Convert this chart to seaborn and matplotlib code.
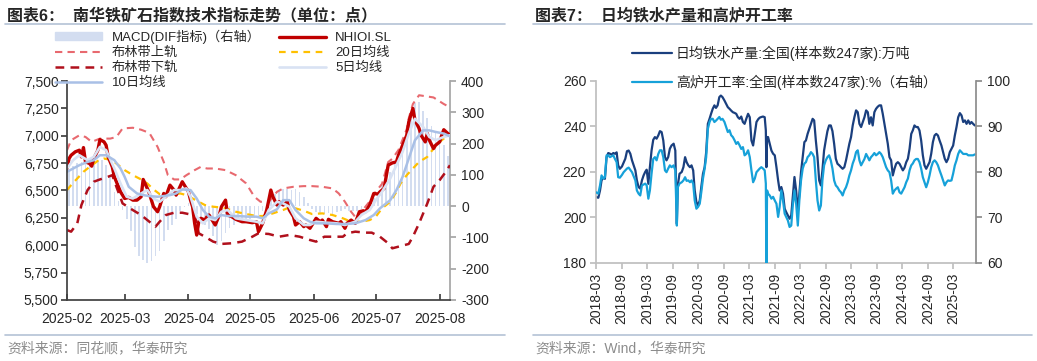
import matplotlib
matplotlib.use('Agg')
import matplotlib.pyplot as plt
import matplotlib.dates as mdates
from matplotlib.lines import Line2D
from matplotlib.patches import Patch
from matplotlib.ticker import FuncFormatter, MultipleLocator
import pandas as pd
import seaborn as sns

# ---------------- left chart: 南华铁矿石指数 (2025) ----------------
price_days = ['02-01', '02-02', '02-03', '02-05', '02-07', '02-08', '02-09', '02-10', '02-12', '02-13',
              '02-14', '02-16', '02-17', '02-19', '02-20', '02-21', '02-23', '02-24', '02-26', '02-27',
              '03-01', '03-03', '03-05', '03-07', '03-09', '03-10', '03-12', '03-13', '03-15', '03-17',
              '03-18', '03-20', '03-21', '03-23', '03-25', '03-26', '03-29', '03-30', '04-01', '04-02',
              '04-03', '04-04', '04-05', '04-06', '04-07', '04-09', '04-10', '04-11', '04-13', '04-14',
              '04-16', '04-17', '04-19', '04-20', '04-22', '04-24', '04-27', '04-29', '05-02', '05-04',
              '05-05', '05-07', '05-09', '05-10', '05-11', '05-12', '05-14', '05-15', '05-17', '05-19',
              '05-20', '05-22', '05-23', '05-25', '05-27', '05-28', '05-30', '05-31', '06-02', '06-04',
              '06-05', '06-07', '06-08', '06-10', '06-13', '06-14', '06-16', '06-17', '06-19', '06-21',
              '06-23', '06-25', '06-26', '06-28', '06-30', '07-02', '07-03', '07-05', '07-07', '07-09',
              '07-11', '07-12', '07-14', '07-16', '07-17', '07-19', '07-20', '07-22', '07-23', '07-25',
              '07-26', '07-27', '07-29', '07-30', '08-01', '08-02', '08-03', '08-05', '08-06']
price_vals = [6700, 6792, 6822, 6853, 6868, 6807, 6892, 6761, 6746, 6722,
              6792, 6868, 6965, 6944, 6913, 6807, 6716, 6625, 6534, 6488,
              6427, 6437, 6412, 6412, 6443, 6601, 6519, 6473, 6352, 6306,
              6352, 6473, 6443, 6549, 6504, 6458, 6580, 6549, 6488, 6412,
              6352, 6200, 6093, 6215, 6246, 6230, 6261, 6276, 6215, 6185,
              6276, 6352, 6412, 6276, 6261, 6237, 6215, 6215, 6206, 6215,
              6124, 6200, 6322, 6412, 6504, 6443, 6367, 6397, 6367, 6397,
              6322, 6261, 6185, 6215, 6170, 6185, 6155, 6185, 6246, 6215,
              6230, 6170, 6237, 6215, 6200, 6215, 6155, 6200, 6230, 6200,
              6306, 6315, 6306, 6367, 6473, 6467, 6488, 6519, 6732, 6752,
              6761, 6822, 6913, 7004, 7126, 7249, 7143, 7067, 7004, 6944,
              7020, 6959, 6883, 6913, 6944, 7004, 7055, 7020, 7004]

upper_days = ['02-01', '02-03', '02-07', '02-10', '02-13', '02-17', '02-22', '02-25', '02-28', '03-05',
              '03-09', '03-13', '03-17', '03-20', '03-22', '03-25', '03-28', '03-31', '04-04', '04-07',
              '04-10', '04-14', '04-19', '04-24', '04-29', '05-03', '05-06', '05-10', '05-14', '05-17',
              '05-22', '05-27', '05-31', '06-05', '06-10', '06-13', '06-16', '06-19', '06-22', '06-25',
              '06-28', '07-01', '07-04', '07-07', '07-09', '07-12', '07-16', '07-17', '07-19', '07-22',
              '07-29', '08-03', '08-06']
upper_vals = [6868, 6959, 7004, 6989, 6944, 6974, 6974, 6989, 7067, 7073,
              7055, 7026, 6898, 6761, 6640, 6601, 6601, 6640, 6686, 6716,
              6701, 6701, 6686, 6640, 6565, 6443, 6397, 6397, 6488, 6519,
              6534, 6540, 6540, 6534, 6519, 6473, 6397, 6306, 6235, 6330,
              6400, 6490, 6560, 6760, 6790, 6870, 7060, 7160, 7290, 7370,
              7350, 7290, 7260]

lower_days = ['02-01', '02-03', '02-06', '02-08', '02-11', '02-14', '02-17', '02-20', '02-23', '02-25',
              '02-28', '03-05', '03-09', '03-13', '03-16', '03-18', '03-21', '03-25', '03-29', '04-01',
              '04-04', '04-06', '04-09', '04-13', '04-17', '04-22', '04-27', '05-02', '05-05', '05-10',
              '05-15', '05-20', '05-25', '05-30', '06-02', '06-06', '06-10', '06-15', '06-17', '06-21',
              '06-26', '06-29', '07-03', '07-07', '07-09', '07-12', '07-17', '07-19', '07-22', '07-26',
              '07-29', '08-01', '08-04', '08-06']
lower_vals = [6139, 6124, 6200, 6367, 6504, 6580, 6601, 6619, 6640, 6534,
              6382, 6321, 6276, 6215, 6170, 6215, 6276, 6297, 6297, 6285,
              6276, 6109, 6078, 6033, 6012, 6018, 6033, 6078, 6109, 6103,
              6078, 6094, 6078, 6048, 6033, 6078, 6078, 6078, 6109, 6124,
              6115, 6115, 6078, 6018, 5972, 5987, 6012, 6078, 6200, 6382,
              6534, 6595, 6671, 6731]

ma20_days = ['02-01', '02-03', '02-06', '02-09', '02-12', '02-16', '02-19', '02-23', '02-26', '03-01',
             '03-05', '03-09', '03-12', '03-15', '03-18', '03-21', '03-25', '03-28', '03-31', '04-03',
             '04-06', '04-09', '04-13', '04-16', '04-19', '04-24', '04-29', '05-04', '05-07', '05-12',
             '05-17', '05-20', '05-23', '05-27', '05-31', '06-05', '06-10', '06-15', '06-19', '06-24',
             '06-28', '07-01', '07-04', '07-08', '07-11', '07-13', '07-16', '07-19', '07-22', '07-26',
             '07-29', '08-01', '08-04']
ma20_vals = [6504, 6549, 6610, 6671, 6716, 6771, 6792, 6777, 6731, 6686,
             6640, 6601, 6564, 6510, 6467, 6458, 6467, 6473, 6458, 6427,
             6397, 6367, 6352, 6346, 6337, 6306, 6285, 6267, 6267, 6291,
             6322, 6346, 6337, 6315, 6285, 6291, 6276, 6246, 6215, 6215,
             6230, 6261, 6337, 6397, 6488, 6564, 6640, 6701, 6761, 6807,
             6883, 6944, 6989]

ma10_days = ['02-01', '02-04', '02-07', '02-11', '02-14', '02-17', '02-20', '02-24', '02-27', '03-01',
             '03-03', '03-07', '03-10', '03-13', '03-17', '03-20', '03-23', '03-26', '03-29', '04-02',
             '04-05', '04-08', '04-11', '04-14', '04-17', '04-20', '04-25', '04-30', '05-04', '05-07',
             '05-10', '05-14', '05-17', '05-20', '05-23', '05-27', '05-30', '06-02', '06-07', '06-12',
             '06-16', '06-21', '06-26', '06-30', '07-03', '07-08', '07-11', '07-14', '07-17', '07-20',
             '07-24', '07-27', '07-30', '08-03', '08-06']
ma10_vals = [6671, 6701, 6731, 6761, 6777, 6822, 6822, 6777, 6701, 6625,
             6534, 6473, 6458, 6449, 6443, 6449, 6458, 6473, 6510, 6504,
             6427, 6322, 6261, 6246, 6276, 6267, 6267, 6261, 6261, 6246,
             6291, 6328, 6412, 6412, 6322, 6246, 6215, 6200, 6200, 6194,
             6194, 6200, 6230, 6276, 6337, 6412, 6504, 6625, 6792, 6959,
             7049, 7049, 7035, 7020, 6995]

ma5_days = ['02-01', '02-04', '02-07', '02-11', '02-14', '02-17', '02-20', '02-24', '02-27', '03-02',
            '03-05', '03-09', '03-12', '03-15', '03-18', '03-21', '03-25', '03-28', '03-31', '04-02',
            '04-05', '04-08', '04-11', '04-14', '04-17', '04-20', '04-24', '04-29', '05-04', '05-07',
            '05-10', '05-14', '05-17', '05-20', '05-23', '05-27', '05-30', '06-02', '06-07', '06-12',
            '06-16', '06-21', '06-24', '06-28', '07-01', '07-04', '07-08', '07-11', '07-14', '07-17',
            '07-20', '07-24', '07-27', '07-30', '08-03', '08-06']
ma5_vals = [6701, 6777, 6822, 6777, 6807, 6898, 6868, 6701, 6564, 6443,
            6427, 6473, 6504, 6427, 6397, 6443, 6504, 6504, 6519, 6443,
            6261, 6200, 6246, 6230, 6306, 6322, 6246, 6230, 6215, 6200,
            6322, 6397, 6382, 6352, 6246, 6185, 6185, 6215, 6206, 6200,
            6185, 6215, 6276, 6322, 6412, 6488, 6610, 6731, 6853, 7020,
            7155, 7080, 6989, 6959, 6989, 7004]

macd_days = ['02-02', '02-04', '02-06', '02-08', '02-10', '02-12', '02-14', '02-16', '02-18', '02-20',
             '02-22', '02-24', '02-26', '02-28', '03-02', '03-04', '03-06', '03-08', '03-10', '03-12',
             '03-14', '03-16', '03-18', '03-20', '03-22', '03-24', '03-26', '03-28', '03-30', '04-01',
             '04-03', '04-05', '04-07', '04-09', '04-11', '04-13', '04-15', '04-17', '04-19', '04-21',
             '04-23', '04-25', '04-27', '04-29', '05-01', '05-03', '05-05', '05-07', '05-09', '05-11',
             '05-13', '05-15', '05-17', '05-19', '05-21', '05-23', '05-25', '05-27', '05-29', '05-31',
             '06-02', '06-04', '06-06', '06-08', '06-10', '06-12', '06-14', '06-16', '06-18', '06-20',
             '06-22', '06-24', '06-26', '06-28', '06-30', '07-02', '07-04', '07-06', '07-08', '07-10',
             '07-12', '07-14', '07-16', '07-18', '07-20', '07-22', '07-24', '07-26', '07-28', '07-30',
             '08-01', '08-03', '08-05']
macd_vals = [115, 128, 137, 141, 147, 150, 147, 148, 148, 132,
             95, 45, 15, -12, -40, -80, -130, -158, -172, -181,
             -176, -160, -143, -112, -75, -60, -42, -15, -2, 10,
             5, -25, -45, -60, -72, -95, -125, -112, -85, -70,
             -60, -52, -48, -45, -42, -38, -30, -15, 0, 25,
             38, 50, 55, 55, 52, 55, 45, 28, 10, -8,
             -20, -25, -24, -22, -25, -20, -14, -10, -14, -15,
             -14, -8, 0, 10, 25, 45, 68, 92, 110, 135,
             155, 192, 230, 280, 330, 332, 305, 282, 255, 235,
             218, 195, 160]

# ---------------- right chart: 日均铁水产量 / 高炉开工率 ----------------
steel_dates = ['2018-03-02', '2018-03-18', '2018-03-30', '2018-04-10', '2018-04-22', '2018-05-04', '2018-05-16', '2018-05-28',
               '2018-06-09', '2018-06-21', '2018-07-03', '2018-07-15', '2018-07-27', '2018-08-07', '2018-08-19', '2018-09-03',
               '2018-09-15', '2018-09-27', '2018-10-09', '2018-10-21', '2018-11-02', '2018-11-14', '2018-11-26', '2018-12-08',
               '2018-12-19', '2018-12-31', '2019-01-12', '2019-01-24', '2019-02-05', '2019-02-17', '2019-02-27', '2019-03-11',
               '2019-03-22', '2019-04-03', '2019-04-15', '2019-04-27', '2019-05-09', '2019-05-21', '2019-06-02', '2019-06-14',
               '2019-06-26', '2019-07-08', '2019-07-19', '2019-07-31', '2019-08-12', '2019-08-24', '2019-09-08', '2019-09-20',
               '2019-10-01', '2019-10-08', '2019-10-20', '2019-11-05', '2019-11-17', '2019-11-29', '2019-12-10', '2019-12-22',
               '2020-01-03', '2020-01-14', '2020-01-26', '2020-02-06', '2020-02-18', '2020-03-01', '2020-03-13', '2020-03-24',
               '2020-04-05', '2020-04-17', '2020-04-28', '2020-05-10', '2020-05-22', '2020-06-02', '2020-06-14', '2020-06-26',
               '2020-07-07', '2020-07-19', '2020-07-31', '2020-08-11', '2020-08-23', '2020-09-06', '2020-09-18', '2020-09-30',
               '2020-10-12', '2020-10-24', '2020-11-05', '2020-11-17', '2020-11-29', '2020-12-11', '2020-12-23', '2021-01-04',
               '2021-01-16', '2021-01-28', '2021-02-09', '2021-02-22', '2021-03-06', '2021-03-18', '2021-03-30', '2021-04-11',
               '2021-04-23', '2021-05-05', '2021-05-16', '2021-05-28', '2021-06-09', '2021-06-21', '2021-06-29', '2021-07-03',
               '2021-07-08', '2021-07-15', '2021-07-27', '2021-08-08', '2021-08-20', '2021-09-01', '2021-09-13', '2021-09-25',
               '2021-10-06', '2021-10-18', '2021-10-30', '2021-11-11', '2021-11-22', '2021-12-04', '2021-12-16', '2021-12-28',
               '2022-01-08', '2022-01-20', '2022-02-01', '2022-02-13', '2022-02-24', '2022-03-08', '2022-03-20', '2022-04-01',
               '2022-04-12', '2022-04-24', '2022-05-06', '2022-05-18', '2022-05-30', '2022-06-10', '2022-06-22', '2022-07-04',
               '2022-07-16', '2022-07-28', '2022-08-08', '2022-08-20', '2022-09-01', '2022-09-13', '2022-09-25', '2022-10-07',
               '2022-10-19', '2022-10-31', '2022-11-12', '2022-11-24', '2022-12-07', '2022-12-19', '2022-12-31', '2023-01-12',
               '2023-01-24', '2023-02-05', '2023-02-17', '2023-03-01', '2023-03-13', '2023-03-25', '2023-04-06', '2023-04-18',
               '2023-04-30', '2023-05-12', '2023-05-24', '2023-06-05', '2023-06-17', '2023-06-29', '2023-07-10', '2023-07-22',
               '2023-08-03', '2023-08-15', '2023-08-27', '2023-09-08', '2023-09-20', '2023-10-02', '2023-10-14', '2023-10-26',
               '2023-11-07', '2023-11-19', '2023-12-01', '2023-12-13', '2023-12-25', '2024-01-06', '2024-01-18', '2024-01-30',
               '2024-02-11', '2024-02-23', '2024-03-06', '2024-03-18', '2024-03-30', '2024-04-11', '2024-04-23', '2024-05-05',
               '2024-05-16', '2024-05-28', '2024-06-09', '2024-06-21', '2024-07-03', '2024-07-15', '2024-07-27', '2024-08-08',
               '2024-08-20', '2024-09-01', '2024-09-13', '2024-09-25', '2024-10-07', '2024-10-19', '2024-10-31', '2024-11-12',
               '2024-11-24', '2024-12-07', '2024-12-19', '2024-12-31', '2025-01-12', '2025-01-24', '2025-02-05', '2025-02-17',
               '2025-03-01', '2025-03-13', '2025-03-25', '2025-04-06', '2025-04-18', '2025-04-30', '2025-05-12', '2025-05-24',
               '2025-06-05', '2025-06-17', '2025-06-29', '2025-07-10', '2025-07-22', '2025-08-03']
hot_metal = [208.9, 208.6, 211.8, 216.2, 217.4, 216.9, 226.4, 228.2,
             227.9, 227.5, 228.2, 227.9, 228.5, 222.8, 221.3, 222.3,
             224.0, 225.7, 229.0, 229.3, 227.9, 225.0, 222.8, 220.6,
             216.2, 213.3, 212.6, 216.2, 218.4, 220.0, 220.9, 214.7,
             222.0, 229.3, 234.0, 235.2, 234.5, 235.9, 237.8, 237.4,
             233.7, 226.4, 225.0, 226.4, 230.1, 231.5, 232.3, 229.3,
             197.2, 214.0, 219.1, 219.9, 222.0, 226.4, 224.2, 222.8,
             222.0, 222.8, 220.6, 211.8, 206.7, 205.3, 207.4, 213.3,
             219.1, 222.0, 228.6, 241.0, 243.2, 245.4, 247.6, 249.1,
             248.0, 249.1, 252.7, 253.4, 252.7, 251.2, 249.8, 248.3,
             247.6, 246.8, 246.1, 245.8, 245.4, 243.9, 243.2, 244.2,
             241.8, 241.0, 243.2, 245.4, 243.9, 233.7, 231.5, 236.6,
             241.8, 243.0, 243.7, 244.0, 244.2, 243.9, 238.1, 222.0,
             235.2, 235.2, 232.3, 229.3, 227.9, 227.2, 222.0, 216.2,
             211.8, 213.3, 210.4, 203.8, 202.3, 200.9, 199.4, 200.9,
             208.9, 217.7, 211.8, 202.3, 210.4, 219.9, 226.4, 233.0,
             233.7, 236.6, 238.8, 241.0, 243.2, 242.5, 233.7, 226.4,
             216.2, 214.0, 220.6, 229.3, 233.7, 237.8, 240.3, 240.3,
             237.8, 232.3, 225.7, 223.5, 222.8, 222.0, 221.3, 222.0,
             225.0, 228.6, 232.3, 235.2, 240.3, 243.9, 246.9, 246.1,
             241.0, 239.6, 241.8, 243.9, 246.9, 246.1, 241.0, 243.9,
             240.3, 246.1, 247.6, 248.5, 249.1, 249.1, 245.4, 241.0,
             236.6, 232.3, 226.4, 225.0, 218.4, 221.3, 223.5, 224.2,
             223.5, 222.0, 220.6, 221.8, 224.2, 225.7, 230.1, 236.6,
             238.1, 240.3, 239.6, 239.6, 238.1, 233.7, 227.2, 222.8,
             221.3, 222.8, 224.2, 227.9, 233.0, 235.9, 236.6, 235.9,
             233.7, 231.5, 228.6, 225.7, 224.2, 225.7, 228.6, 230.1,
             231.5, 235.9, 239.6, 243.9, 245.7, 244.7, 241.8, 242.5,
             241.0, 242.5, 241.0, 241.8, 241.0, 240.3]
bf_rate = [75.5, 75.2, 77.0, 79.2, 78.5, 78.8, 83.6, 83.6,
           83.2, 83.4, 83.6, 82.8, 82.1, 78.8, 78.7, 79.3,
           79.9, 80.3, 80.7, 80.9, 80.4, 79.9, 79.0, 78.1,
           75.9, 75.2, 74.8, 77.0, 77.2, 77.4, 77.0, 74.1,
           75.9, 79.6, 82.8, 83.2, 82.5, 83.9, 84.7, 84.7,
           83.2, 80.3, 79.9, 80.7, 81.4, 81.0, 81.4, 80.3,
           68.2, 76.6, 77.4, 77.7, 78.1, 78.8, 78.0, 78.1,
           77.7, 78.1, 77.4, 73.7, 71.9, 72.3, 73.0, 75.5,
           78.5, 80.7, 83.2, 89.4, 90.9, 91.6, 91.6, 90.9,
           91.2, 91.6, 92.0, 91.4, 91.6, 90.9, 89.8, 88.7,
           89.1, 88.0, 87.6, 86.9, 86.1, 86.5, 85.8, 85.0,
           85.4, 83.6, 83.9, 84.7, 83.2, 80.3, 77.7, 78.5,
           79.9, 80.3, 80.7, 81.0, 80.7, 80.3, 77.4, 59.9,
           75.9, 75.2, 74.8, 74.1, 74.5, 73.7, 73.0, 70.1,
           72.3, 75.9, 73.7, 70.8, 70.1, 69.3, 67.9, 68.2,
           72.6, 75.9, 73.0, 68.2, 73.7, 78.1, 80.7, 81.8,
           82.1, 83.2, 83.6, 84.3, 83.9, 83.2, 78.1, 73.7,
           71.5, 72.6, 78.1, 81.4, 82.5, 83.2, 83.6, 82.5,
           80.7, 78.1, 77.0, 76.6, 75.9, 75.5, 74.8, 75.9,
           76.6, 77.7, 79.2, 80.3, 81.8, 82.8, 84.3, 84.7,
           82.5, 81.4, 82.1, 82.8, 83.9, 83.2, 82.5, 83.2,
           83.6, 84.1, 83.6, 83.9, 84.3, 83.9, 83.2, 82.1,
           81.0, 80.3, 79.9, 78.1, 75.2, 75.9, 76.3, 76.6,
           75.5, 75.2, 75.9, 76.6, 77.7, 78.5, 80.3, 81.4,
           81.8, 82.5, 82.8, 82.8, 82.1, 80.7, 78.8, 77.7,
           76.6, 77.7, 79.2, 81.0, 82.1, 82.5, 82.1, 81.4,
           80.3, 79.2, 78.1, 77.0, 77.7, 78.1, 78.0, 78.1,
           79.6, 81.4, 82.5, 83.9, 84.7, 84.3, 83.9, 83.9,
           83.9, 83.6, 83.6, 83.6, 83.6, 83.8]

sns.set_theme(style='white')
plt.rcParams['font.family'] = ['Liberation Sans', 'Noto Sans CJK SC']
plt.rcParams['axes.unicode_minus'] = False


def d25(days):
    return pd.to_datetime(['2025-' + d for d in days])


def line(ax, x, y, color, lw, dashes=None):
    sns.lineplot(x=x, y=y, ax=ax, color=color, linewidth=lw, legend=False)
    if dashes is not None:
        ax.lines[-1].set_dashes(dashes)


fig = plt.figure(figsize=(10.37, 3.61), dpi=100)

# ---- left chart
axL = fig.add_axes([0.0646, 0.169, 0.3693, 0.6066])
axLr = axL.twinx()
axL.set_zorder(axLr.get_zorder() + 1)
axL.patch.set_visible(False)

axLr.bar(d25(macd_days), macd_vals, width=0.8, color='#d3ddf0', linewidth=0)

line(axL, d25(upper_days), upper_vals, '#e8696f', 1.5, (3.5, 2.5))
line(axL, d25(lower_days), lower_vals, '#b0101c', 1.8, (3.5, 2.5))
line(axL, d25(ma20_days), ma20_vals, '#ffc000', 1.6, (3, 2.5))
line(axL, d25(price_days), price_vals, '#c00000', 2.4)
line(axL, d25(ma5_days), ma5_vals, '#d9e2f3', 1.9)
line(axL, d25(ma10_days), ma10_vals, '#a9c0e6', 1.8)

axL.set_xlim(pd.Timestamp('2025-02-01'), pd.Timestamp('2025-08-06'))
axL.set_ylim(5500, 7500)
axLr.set_ylim(-300, 400)
axL.yaxis.set_major_locator(MultipleLocator(250))
axL.yaxis.set_major_formatter(FuncFormatter(lambda v, p: f'{v:,.0f}'))
axLr.yaxis.set_major_locator(MultipleLocator(100))
axL.xaxis.set_major_locator(mdates.MonthLocator())
axL.xaxis.set_major_formatter(mdates.DateFormatter('%Y-%m'))
axL.set_xlabel('')
axL.set_ylabel('')

for s in ['top', 'right']:
    axL.spines[s].set_visible(False)
for s in ['top', 'left', 'bottom']:
    axLr.spines[s].set_visible(False)
axL.spines['left'].set_color('#404040')
axL.spines['bottom'].set_color('#404040')
axLr.spines['right'].set_color('#a6a6a6')
axL.tick_params(axis='y', left=True, direction='out', length=4, color='#404040', labelsize=10, pad=2)
axL.tick_params(axis='x', bottom=True, direction='in', length=4, color='#404040', labelsize=10, pad=9)
axLr.tick_params(axis='y', right=True, direction='out', length=4, color='#a6a6a6', labelsize=10, pad=4)

handles = [Patch(color='#d3ddf0', label='MACD(DIF指标)（右轴）'),
           Line2D([], [], color='#e8696f', lw=1.5, dashes=(3.5, 2.5), label='布林带上轨'),
           Line2D([], [], color='#b0101c', lw=1.8, dashes=(3.5, 2.5), label='布林带下轨'),
           Line2D([], [], color='#a9c0e6', lw=1.8, label='10日均线'),
           Line2D([], [], color='#c00000', lw=2.4, label='NHIOI.SL'),
           Line2D([], [], color='#ffc000', lw=1.6, dashes=(3, 2.5), label='20日均线'),
           Line2D([], [], color='#d9e2f3', lw=1.9, label='5日均线')]
fig.legend(handles=handles, loc='upper left', bbox_to_anchor=(0.053, 0.918), ncol=2, frameon=False,
           fontsize=9.5, handlelength=3.6, handleheight=0.55, handletextpad=0.7, columnspacing=1.35,
           labelspacing=0.22, borderpad=0, borderaxespad=0)

# ---- right chart
axR = fig.add_axes([0.5747, 0.2715, 0.3664, 0.5055])
axRr = axR.twinx()
sd = pd.to_datetime(steel_dates)
line(axR, sd, hot_metal, '#1a3f7e', 1.6)
line(axRr, sd, bf_rate, '#16a1d9', 1.6)

axR.set_xlim(pd.Timestamp('2018-03-01'), pd.Timestamp('2025-08-11'))
axR.set_ylim(180, 260)
axRr.set_ylim(60, 100)
axR.yaxis.set_major_locator(MultipleLocator(20))
axRr.yaxis.set_major_locator(MultipleLocator(10))
axR.xaxis.set_major_locator(mdates.MonthLocator(bymonth=(3, 9)))
axR.xaxis.set_major_formatter(mdates.DateFormatter('%Y-%m'))
axR.set_xlabel('')
axR.set_ylabel('')
axRr.set_ylabel('')
plt.setp(axR.get_xticklabels(), rotation=90)

for s in ['top', 'right']:
    axR.spines[s].set_visible(False)
for s in ['top', 'left', 'bottom']:
    axRr.spines[s].set_visible(False)
axR.spines['left'].set_color('#bfbfbf')
axR.spines['bottom'].set_color('#bfbfbf')
axRr.spines['right'].set_color('#8c8c8c')
axR.tick_params(axis='y', left=True, direction='out', length=4, color='#bfbfbf', labelsize=10, pad=3)
axR.tick_params(axis='x', bottom=True, direction='out', length=4, color='#bfbfbf', labelsize=10, pad=3)
axRr.tick_params(axis='y', right=True, direction='out', length=4, color='#8c8c8c', labelsize=10, pad=4)

handlesR = [Line2D([], [], color='#1a3f7e', lw=1.6, label='日均铁水产量:全国(样本数247家):万吨'),
            Line2D([], [], color='#16a1d9', lw=1.6, label='高炉开工率:全国(样本数247家):%（右轴）')]
fig.legend(handles=handlesR, loc='upper left', bbox_to_anchor=(0.609, 0.873), frameon=False,
           fontsize=10, handlelength=2.9, handletextpad=0.3, labelspacing=1.0,
           borderpad=0, borderaxespad=0)

# ---- titles, rules, sources
fig.text(0.0068, 0.958, '图表6：  南华铁矿石指数技术指标走势（单位：点）', fontsize=11.5, fontweight='bold', va='center')
fig.text(0.516, 0.958, '图表7：  日均铁水产量和高炉开工率', fontsize=11.5, fontweight='bold', va='center')
for x0, x1 in [(0.0048, 0.487), (0.514, 0.995)]:
    fig.add_artist(Line2D([x0, x1], [0.934, 0.934], transform=fig.transFigure, color='#b4c2d6', lw=1.2))
    fig.add_artist(Line2D([x0, x1], [0.072, 0.072], transform=fig.transFigure, color='#b4c2d6', lw=1.2))
fig.text(0.0068, 0.036, '资料来源：同花顺，华泰研究', fontsize=10, color='#8c8c8c', va='center')
fig.text(0.516, 0.036, '资料来源：Wind，华泰研究', fontsize=10, color='#8c8c8c', va='center')

fig.savefig('out.png', dpi=100)
